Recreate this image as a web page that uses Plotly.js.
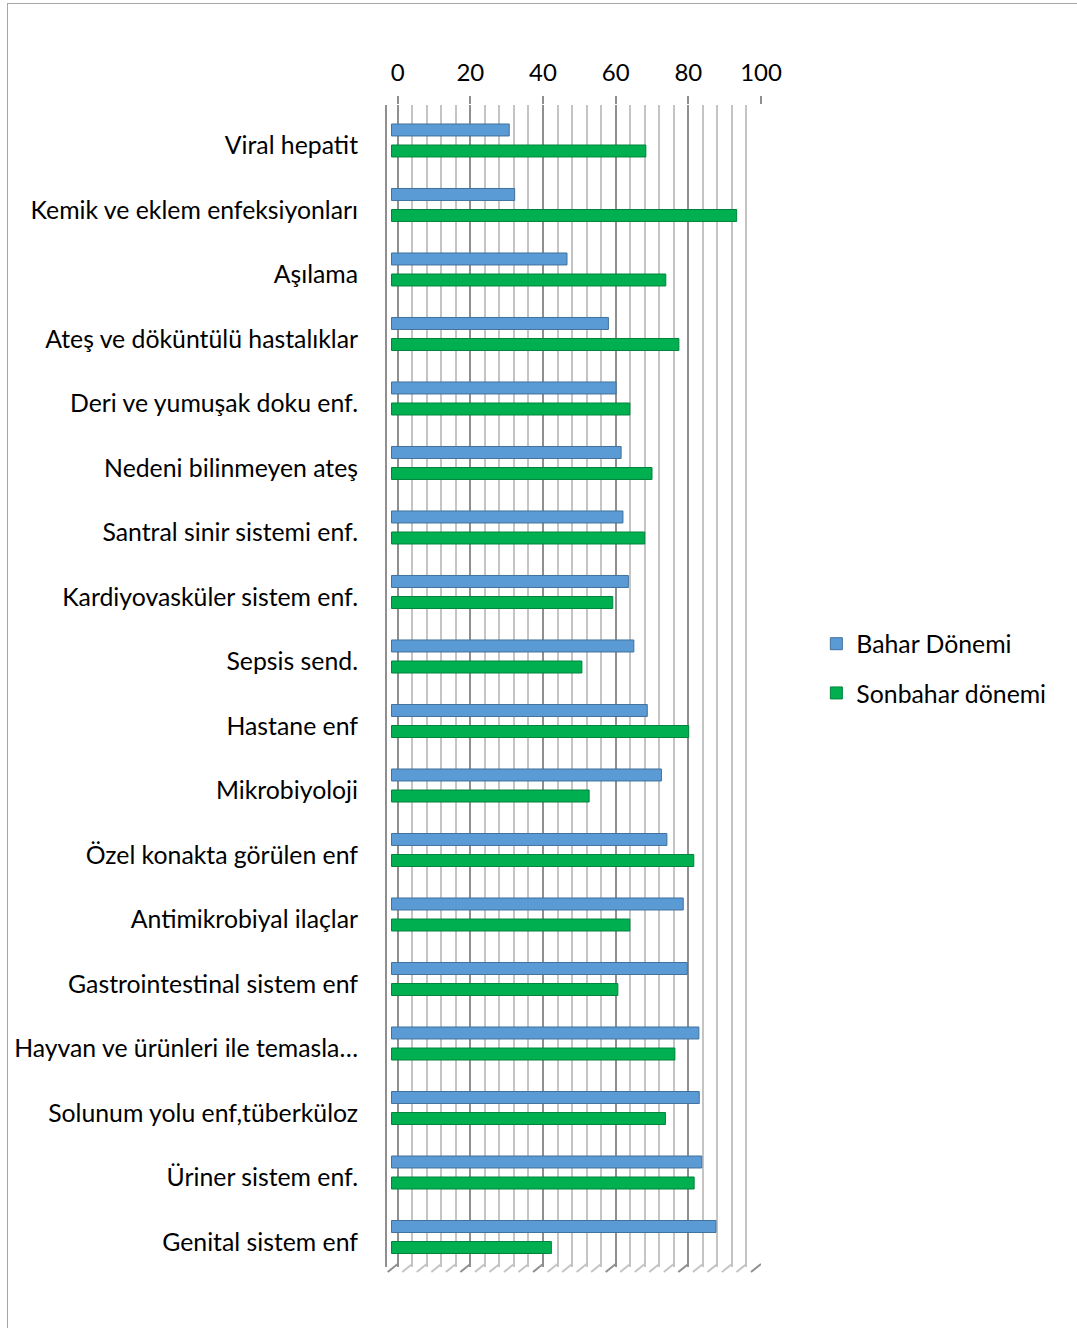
<!DOCTYPE html>
<html>
<head>
<meta charset="utf-8">
<script src="https://cdn.plot.ly/plotly-3.0.1.min.js"></script>
<style>
  html, body { margin: 0; padding: 0; background: #fff; }
  #frame { position: absolute; left: 7px; top: 3px; width: 1080px; height: 1340px;
           border-left: 1.5px solid #a6a6a6; border-top: 1.5px solid #a6a6a6; box-sizing: border-box; }
  #chart { position: absolute; left: 0; top: 0; width: 1077px; height: 1328px; }
</style>
</head>
<body>
<div id="frame"></div>
<div id="chart"></div>
<script>
// Topics, in display order (top to bottom)
const categories = [
  "Viral hepatit",
  "Kemik ve eklem enfeksiyonları",
  "Aşılama",
  "Ateş ve döküntülü hastalıklar",
  "Deri ve yumuşak doku enf.",
  "Nedeni bilinmeyen ateş",
  "Santral sinir sistemi enf.",
  "Kardiyovasküler sistem enf.",
  "Sepsis send.",
  "Hastane enf",
  "Mikrobiyoloji",
  "Özel konakta görülen enf",
  "Antimikrobiyal ilaçlar",
  "Gastrointestinal sistem enf",
  "Hayvan ve ürünleri ile temasla…",
  "Solunum yolu enf,tüberküloz",
  "Üriner sistem enf.",
  "Genital sistem enf"
];

const baharDonemi = [32.4, 33.9, 48.3, 59.7, 61.8, 63.2, 63.7, 65.2, 66.7, 70.4, 74.3, 75.8, 80.3, 81.4, 84.6, 84.7, 85.4, 89.3];
const sonbaharDonemi = [70.0, 95.0, 75.5, 79.1, 65.6, 71.7, 69.7, 60.9, 52.4, 81.8, 54.4, 83.2, 65.6, 62.3, 78.0, 75.4, 83.3, 44.0];

const seriesNames = ["Bahar Dönemi", "Sonbahar dönemi"];
const axisTicks = [0, 20, 40, 60, 80, 100];

const FONT = "Lato, 'Open Sans', sans-serif";

const traces = [
  {
    type: "bar", orientation: "h", name: seriesNames[0],
    y: categories, x: baharDonemi,
    xaxis: "x2", yaxis: "y",
    legendgroup: "a",
    marker: { color: "#5B9BD5", line: { color: "#41719C", width: 1 } },
    hoverinfo: "x+y"
  },
  {
    type: "bar", orientation: "h", name: seriesNames[1],
    y: categories, x: sonbaharDonemi,
    xaxis: "x2", yaxis: "y",
    legendgroup: "b",
    marker: { color: "#00B050", line: { color: "#00843C", width: 1 } },
    hoverinfo: "x+y"
  }
];

// floor edge strokes under each wall gridline
const floorLines = [];
for (let v = 0; v <= 100; v += 4) {
  floorLines.push({
    type: "line", xref: "x", yref: "paper",
    xsizemode: "pixel", xanchor: v, x0: 0, x1: -10,
    ysizemode: "pixel", yanchor: 0, y0: 3, y1: -5,
    line: { color: (v % 20 === 0) ? "#8f8f8f" : "#c4c4c4", width: 2 },
    layer: "below"
  });
}

const layout = {
  width: 1077, height: 1328,
  margin: { l: 387, r: 316, t: 105, b: 61 },
  paper_bgcolor: "rgba(0,0,0,0)",
  plot_bgcolor: "rgba(0,0,0,0)",
  font: { family: FONT, size: 24.8, color: "#000" },
  barmode: "group",
  bargap: 0.348,
  bargroupgap: 0.43,
  showlegend: true,
  legend: {
    x: 1.148, xanchor: "left", y: 0.515, yanchor: "middle",
    traceorder: "grouped", tracegroupgap: 14,
    font: { family: FONT, size: 24.8, color: "#000" },
    itemwidth: 30
  },
  // wall gridlines and top tick labels
  xaxis: {
    side: "top",
    range: [-2.945, 100],
    tickvals: axisTicks,
    ticktext: axisTicks.map(String),
    ticks: "outside", ticklen: 8, tickcolor: "#8f8f8f", tickwidth: 2,
    ticklabelstandoff: 5,
    showgrid: true, gridcolor: "#8f8f8f", gridwidth: 2,
    minor: { dtick: 4, tick0: 0, showgrid: true, gridcolor: "#c4c4c4", gridwidth: 2 },
    zeroline: false, showline: false,
    tickfont: { family: FONT, size: 24, color: "#000" },
    fixedrange: true
  },
  // value axis of the bars (front plane)
  xaxis2: {
    overlaying: "x",
    range: [-1.24, 101.7],
    visible: false,
    fixedrange: true
  },
  yaxis: {
    type: "category",
    categoryarray: categories,
    range: [17.465, -0.55],
    showgrid: false, zeroline: false,
    showline: true, linecolor: "#8f8f8f", linewidth: 2,
    ticks: "", ticklabelstandoff: 22, ticklabelshift: -5,
    tickfont: { family: FONT, size: 24.8, color: "#000" },
    fixedrange: true
  },
  shapes: floorLines
};

Plotly.newPlot("chart", traces, layout, { displayModeBar: false, staticPlot: true });
</script>
</body>
</html>
